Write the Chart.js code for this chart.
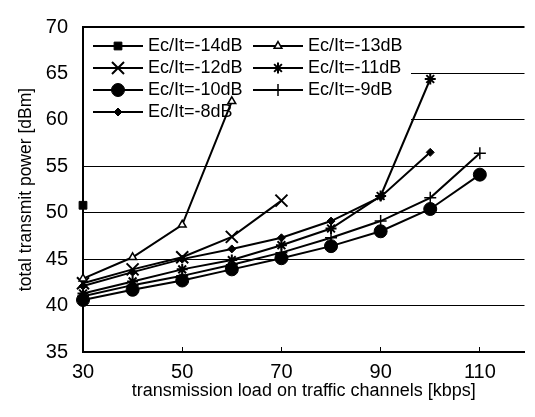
<!DOCTYPE html>
<html>
<head>
<meta charset="utf-8">
<script src="https://cdn.jsdelivr.net/npm/chart.js"></script>
<style>
  html, body { margin: 0; padding: 0; background: #fff; overflow: hidden; }
  #wrap { width: 535px; height: 417px; }
</style>
</head>
<body>
<div id="wrap"><canvas id="chart" width="535" height="417"></canvas></div>
<script>
// transmission load (kbps) and total transmit power (dBm) per Ec/It target
const loads = [30, 40, 50, 60, 70, 80, 90, 100, 110];
const ec14 = [50.8];
const ec13 = [42.9, 45.2, 48.7, 62.0];
const ec12 = [42.4, 43.9, 45.2, 47.4, 51.3];
const ec11 = [41.3, 42.6, 43.9, 44.9, 46.5, 48.3, 51.8, 64.4];
const ec10 = [40.6, 41.7, 42.7, 43.9, 45.1, 46.4, 48.0, 50.4, 54.1];
const ec9  = [41.0, 42.2, 43.2, 44.4, 45.7, 47.3, 49.1, 51.6, 56.4];
const ec8  = [42.1, 43.6, 45.0, 46.1, 47.3, 49.1, 51.7, 56.5];

const xTicks = [30, 50, 70, 90, 110];
const yTicks = [35, 40, 45, 50, 55, 60, 65, 70];

const F = '"Liberation Sans", Arial, sans-serif';

const pts = vals => vals.map((v, i) => ({ x: loads[i], y: v }));

const series = (label, vals, style, radius, fill, bw) => ({
    label,
    data: pts(vals),
    borderColor: '#000',
    borderWidth: 2,
    pointStyle: style,
    pointRadius: radius,
    pointHoverRadius: radius,
    pointBackgroundColor: fill,
    pointBorderColor: '#000',
    pointBorderWidth: bw,
    tension: 0,
    fill: false,
    clip: false
});

const datasets = [
    series('Ec/It=-14dB', ec14, 'rect', 5.5, '#000', 1),
    series('Ec/It=-13dB', ec13, 'triangle', 4.5, '#fff', 1.5),
    series('Ec/It=-12dB', ec12, 'crossRot', 8.5, '#000', 2),
    series('Ec/It=-11dB', ec11, 'star', 5.5, '#000', 2),
    series('Ec/It=-10dB', ec10, 'circle', 6.5, '#000', 1),
    series('Ec/It=-9dB', ec9, 'cross', 6, '#000', 1.5),
    series('Ec/It=-8dB', ec8, 'rectRot', 4, '#000', 1)
];

// legend drawn inside the plot, under the lines
const innerLegend = {
    id: 'innerLegend',
    beforeDatasetsDraw(chart) {
        const ctx = chart.ctx, a = chart.chartArea;
        ctx.save();
        ctx.fillStyle = '#fff';
        ctx.fillRect(a.left + 1, a.top + 2, 327, 98);
        ctx.font = '18px ' + F;
        ctx.textBaseline = 'middle';
        chart.data.datasets.forEach((ds, i) => {
            const x0 = a.left + 10 + (i % 2) * 160;
            const y = a.top + 19 + Math.floor(i / 2) * 22;
            ctx.strokeStyle = '#000';
            ctx.lineWidth = 2;
            ctx.beginPath();
            ctx.moveTo(x0, y);
            ctx.lineTo(x0 + 50, y);
            ctx.stroke();
            ctx.fillStyle = ds.pointBackgroundColor;
            ctx.lineWidth = ds.pointBorderWidth;
            if (Chart.helpers && Chart.helpers.drawPoint) {
                Chart.helpers.drawPoint(ctx, {
                    pointStyle: ds.pointStyle, radius: ds.pointRadius,
                    borderWidth: ds.pointBorderWidth, rotation: 0
                }, x0 + 25, y);
            }
            ctx.fillStyle = '#000';
            ctx.fillText(ds.label, x0 + 55, y);
        });
        ctx.restore();
    }
};

new Chart(document.getElementById('chart'), {
    type: 'line',
    data: { datasets },
    plugins: [innerLegend],
    options: {
        responsive: false,
        animation: false,
        layout: { padding: { top: 25, right: 0, bottom: 0, left: 0 } },
        plugins: {
            legend: { display: false },
            tooltip: { enabled: false }
        },
        scales: {
            x: {
                type: 'linear',
                min: 30,
                max: 119,
                afterBuildTicks: s => { s.ticks = xTicks.map(v => ({ value: v })); },
                afterFit: s => { s.height = 65; },
                grid: { drawOnChartArea: false, drawTicks: true, tickLength: -5, color: '#000', lineWidth: 1 },
                border: { color: '#000', width: 2 },
                ticks: { color: '#000', font: { family: F, size: 20 }, padding: 13, maxRotation: 0, autoSkip: false },
                title: {
                    display: true,
                    text: 'transmission load on traffic channels [kbps]',
                    color: '#000',
                    font: { family: F, size: 18 },
                    padding: { top: 0, bottom: 15 }
                }
            },
            y: {
                min: 35,
                max: 70,
                afterBuildTicks: s => { s.ticks = yTicks.map(v => ({ value: v })); },
                afterFit: s => { s.width = 83; },
                grid: {
                    color: '#000',
                    lineWidth: c => (c.tick && c.tick.value === 70 ? 2 : 1),
                    drawTicks: false
                },
                border: { color: '#000', width: 2 },
                ticks: { color: '#000', font: { family: F, size: 20 }, padding: 15 },
                title: {
                    display: true,
                    text: 'total transmit power [dBm]',
                    color: '#000',
                    font: { family: F, size: 17.5 },
                    padding: { top: 16, bottom: 0 }
                }
            }
        }
    }
});
</script>
</body>
</html>
